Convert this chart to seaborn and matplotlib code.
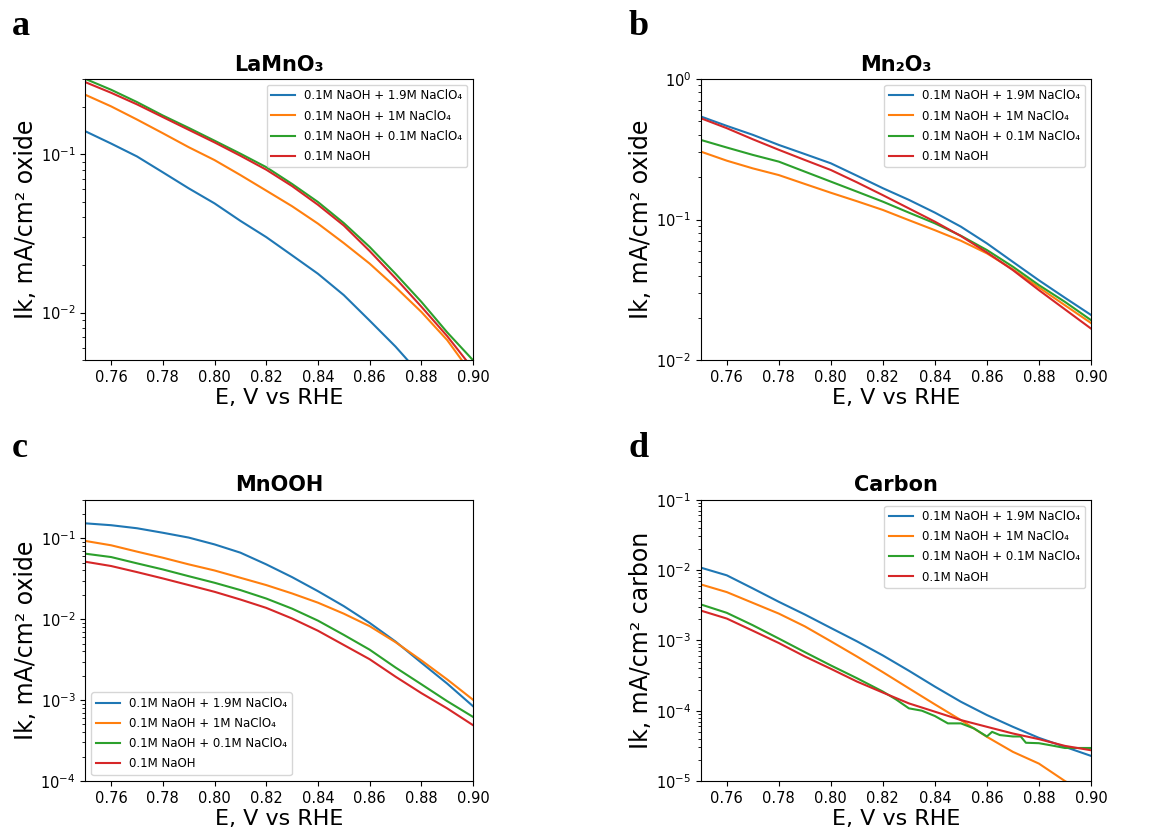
import numpy as np
import pandas as pd
import matplotlib
matplotlib.use("Agg")
import matplotlib.pyplot as plt
import seaborn as sns

# potentials (V vs RHE)
E = [0.75, 0.76, 0.77, 0.78, 0.79, 0.80, 0.81, 0.82,
     0.83, 0.84, 0.85, 0.86, 0.87, 0.88, 0.89, 0.90]

electrolytes = ["0.1M NaOH + 1.9M NaClO₄", "0.1M NaOH + 1M NaClO₄",
                "0.1M NaOH + 0.1M NaClO₄", "0.1M NaOH"]

# a - LaMnO3
lamno3_19 = [0.140, 0.117, 0.097, 0.077, 0.061, 0.049, 0.038, 0.030,
             0.023, 0.0176, 0.0129, 0.0089, 0.0061, 0.0040, 0.0025, 0.0016]
lamno3_1 = [0.238, 0.201, 0.166, 0.136, 0.111, 0.092, 0.074, 0.059,
            0.047, 0.0365, 0.0275, 0.0204, 0.0145, 0.0101, 0.0067, 0.0040]
lamno3_01 = [0.300, 0.256, 0.214, 0.176, 0.147, 0.122, 0.101, 0.083,
             0.065, 0.050, 0.0368, 0.026, 0.0176, 0.0117, 0.0075, 0.0050]
lamno3_0 = [0.286, 0.245, 0.207, 0.172, 0.143, 0.119, 0.098, 0.080,
            0.063, 0.048, 0.0355, 0.0245, 0.0165, 0.0109, 0.0071, 0.0044]

# b - Mn2O3
mn2o3_19 = [0.540, 0.463, 0.400, 0.339, 0.292, 0.251, 0.205, 0.167,
            0.138, 0.112, 0.089, 0.0677, 0.050, 0.037, 0.0278, 0.021]
mn2o3_1 = [0.304, 0.262, 0.231, 0.207, 0.179, 0.155, 0.135, 0.117,
           0.099, 0.084, 0.0707, 0.0575, 0.0442, 0.0329, 0.0246, 0.0184]
mn2o3_01 = [0.368, 0.325, 0.288, 0.258, 0.219, 0.186, 0.158, 0.134,
            0.112, 0.094, 0.0767, 0.0607, 0.0462, 0.0342, 0.026, 0.0193]
mn2o3_0 = [0.525, 0.446, 0.372, 0.313, 0.265, 0.225, 0.184, 0.149,
           0.120, 0.0966, 0.0763, 0.0584, 0.0437, 0.0315, 0.023, 0.0168]

# c - MnOOH
mnooh_19 = [0.153, 0.145, 0.133, 0.117, 0.102, 0.084, 0.0664, 0.0476,
            0.0331, 0.0222, 0.0145, 0.0090, 0.0053, 0.0029, 0.0016, 0.00084]
mnooh_1 = [0.0927, 0.0819, 0.0684, 0.0575, 0.0476, 0.040, 0.0325, 0.0264,
           0.0208, 0.016, 0.0117, 0.0082, 0.0052, 0.0031, 0.0018, 0.00101]
mnooh_01 = [0.0645, 0.0586, 0.049, 0.0412, 0.034, 0.0282, 0.0229, 0.018,
            0.0135, 0.0096, 0.0064, 0.0042, 0.00253, 0.00157, 0.00097, 0.00062]
mnooh_0 = [0.0513, 0.0454, 0.0382, 0.0319, 0.0264, 0.0218, 0.0175, 0.0138,
           0.0102, 0.0072, 0.0048, 0.0032, 0.00195, 0.00122, 0.00079, 0.00049]

# d - Carbon
carbon_19 = [0.0108, 0.0084, 0.00547, 0.00353, 0.00233, 0.0015, 0.00097, 0.00061,
             0.00037, 0.00022, 0.000134, 8.67e-5, 5.9e-5, 4.11e-5, 3.06e-5, 2.28e-5]
carbon_1 = [0.00624, 0.00485, 0.00341, 0.0024, 0.00158, 0.00097, 0.00059, 0.000353,
            0.000208, 0.000123, 7.36e-5, 4.25e-5, 2.6e-5, 1.77e-5, 1.0e-5, 6.2e-6]
carbon_0 = [0.00265, 0.00204, 0.00137, 0.000916, 0.00059, 0.000394, 0.00026, 0.000181,
            0.000127, 9.68e-5, 7.36e-5, 5.9e-5, 4.74e-5, 3.94e-5, 3.16e-5, 2.74e-5]
# noisy trace, read on a finer grid
E_carbon_01 = [0.75, 0.76, 0.77, 0.78, 0.79, 0.80, 0.81, 0.82, 0.825, 0.83, 0.835,
               0.84, 0.845, 0.85, 0.855, 0.86, 0.862, 0.865, 0.87, 0.873, 0.875,
               0.88, 0.885, 0.89, 0.90]
carbon_01 = [0.00324, 0.00246, 0.00164, 0.00106, 0.00068, 0.00044, 0.00029, 0.000187,
             0.000145, 0.000108, 0.000100, 8.4e-5, 6.6e-5, 6.6e-5, 5.6e-5, 4.3e-5,
             5.0e-5, 4.5e-5, 4.3e-5, 4.3e-5, 3.5e-5, 3.45e-5, 3.2e-5, 2.95e-5, 2.95e-5]


def long_df(series):
    rows = []
    for lab, (x, y) in zip(electrolytes, series):
        rows.append(pd.DataFrame({"E": x, "Ik": y, "Electrolyte": lab}))
    return pd.concat(rows, ignore_index=True)


panels = [
    ("a", "LaMnO₃", "Ik, mA/cm² oxide", (0.005, 0.3), "upper right",
     [(E, lamno3_19), (E, lamno3_1), (E, lamno3_01), (E, lamno3_0)]),
    ("b", "Mn₂O₃", "Ik, mA/cm² oxide", (0.01, 1.0), "upper right",
     [(E, mn2o3_19), (E, mn2o3_1), (E, mn2o3_01), (E, mn2o3_0)]),
    ("c", "MnOOH", "Ik, mA/cm² oxide", (1e-4, 0.3), "lower left",
     [(E, mnooh_19), (E, mnooh_1), (E, mnooh_01), (E, mnooh_0)]),
    ("d", "Carbon", "Ik, mA/cm² carbon", (1e-5, 0.1), "upper right",
     [(E, carbon_19), (E, carbon_1), (E_carbon_01, carbon_01), (E, carbon_0)]),
]

# axes rectangles in figure fractions
rects = [[0.073, 0.566, 0.332, 0.339], [0.600, 0.566, 0.334, 0.339],
         [0.073, 0.059, 0.332, 0.339], [0.600, 0.059, 0.334, 0.339]]
letter_pos = [(0.010, 0.958), (0.538, 0.958), (0.010, 0.450), (0.538, 0.450)]

fig = plt.figure(figsize=(11.68, 8.3), dpi=100)
palette = sns.color_palette("tab10", 4)
xt = np.arange(0.76, 0.901, 0.02)

for (letter, title, ylab, ylim, loc, series), rect, lp in zip(panels, rects, letter_pos):
    ax = fig.add_axes(rect)
    df = long_df(series)
    sns.lineplot(data=df, x="E", y="Ik", hue="Electrolyte", palette=palette,
                 estimator=None, sort=False, linewidth=1.5, ax=ax)
    ax.set_yscale("log")
    ax.set_xlim(0.75, 0.90)
    ax.set_ylim(*ylim)
    ax.set_xticks(xt)
    ax.set_xticklabels([f"{v:.2f}" for v in xt])
    ax.tick_params(labelsize=10.5)
    ax.set_xlabel("E, V vs RHE", fontsize=16, labelpad=2)
    ax.set_ylabel(ylab, fontsize=17, labelpad=2)
    ax.set_title(title, fontsize=15, fontweight="bold")
    ax.legend(title=None, loc=loc, fontsize=8.5, labelspacing=0.6)
    fig.text(lp[0], lp[1], letter, fontsize=26, fontweight="bold",
             family="Liberation Serif")

fig.savefig("out.png", dpi=100)
